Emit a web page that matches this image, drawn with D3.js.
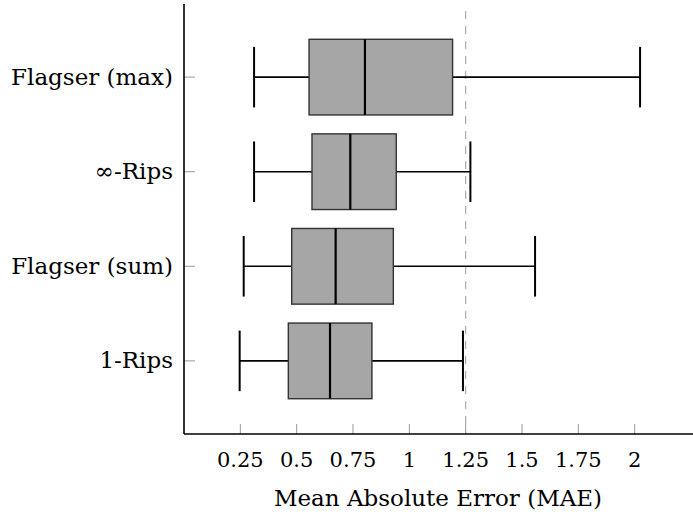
<!DOCTYPE html>
<html>
<head>
<meta charset="utf-8">
<script src="https://cdn.jsdelivr.net/npm/d3@7"></script>
<style>
    body { margin: 0; background: #fff; }
    text { font-family: "DejaVu Serif", serif; fill: #000; }
</style>
</head>
<body>
<div id="chart"></div>
<script>
// box plot stats
const categories = ["Flagser (max)", "\u221E-Rips", "Flagser (sum)", "1-Rips"];
const whiskerLow = [0.311, 0.311, 0.265, 0.247];
const q1 = [0.555, 0.568, 0.478, 0.463];
const median = [0.803, 0.738, 0.673, 0.648];
const q3 = [1.192, 0.942, 0.929, 0.834];
const whiskerHigh = [2.024, 1.271, 1.558, 1.238];
const xTicks = [0.25, 0.5, 0.75, 1, 1.25, 1.5, 1.75, 2];
const refLine = 1.25;

const width = 693, height = 519;
const axisLeft = 184, axisTop = 4, axisBottom = 434;

let svg = d3.select("#chart").append("svg")
    .attr("width", width)
    .attr("height", height);

let x = d3.scaleLinear()
    .domain([0, 2.26])
    .range([axisLeft, axisLeft + 225.33 * 2.26]);

let y = d3.scalePoint()
    .domain(categories)
    .range([axisTop, axisBottom])
    .padding(0.773);

let step = y.step();
let boxH = step * 0.8;
let capH = step * 0.64;

let rows = categories.map((c, i) => ({
    name: c, lo: whiskerLow[i], q1: q1[i], med: median[i], q3: q3[i], hi: whiskerHigh[i]
}));

// dashed reference line
svg.append("line")
    .attr("x1", x(refLine)).attr("x2", x(refLine))
    .attr("y1", axisTop + 7).attr("y2", axisBottom)
    .attr("stroke", "#aaa")
    .attr("stroke-width", 1.2)
    .attr("stroke-dasharray", "8,7");

// ticks (inward, gray)
svg.append("g").selectAll("line")
    .data(xTicks)
    .enter().append("line")
    .attr("x1", d => x(d)).attr("x2", d => x(d))
    .attr("y1", axisBottom).attr("y2", axisBottom - 10)
    .attr("stroke", "#999").attr("stroke-width", 1);

svg.append("g").selectAll("line")
    .data(categories)
    .enter().append("line")
    .attr("x1", axisLeft).attr("x2", axisLeft + 11)
    .attr("y1", d => y(d)).attr("y2", d => y(d))
    .attr("stroke", "#999").attr("stroke-width", 1);

// boxes
let g = svg.append("g").selectAll("g")
    .data(rows)
    .enter().append("g");

g.append("line")
    .attr("x1", d => x(d.lo)).attr("x2", d => x(d.q1))
    .attr("y1", d => y(d.name)).attr("y2", d => y(d.name))
    .attr("stroke", "#000").attr("stroke-width", 1.6);

g.append("line")
    .attr("x1", d => x(d.q3)).attr("x2", d => x(d.hi))
    .attr("y1", d => y(d.name)).attr("y2", d => y(d.name))
    .attr("stroke", "#000").attr("stroke-width", 1.6);

g.append("line")
    .attr("x1", d => x(d.lo)).attr("x2", d => x(d.lo))
    .attr("y1", d => y(d.name) - capH / 2).attr("y2", d => y(d.name) + capH / 2)
    .attr("stroke", "#000").attr("stroke-width", 2);

g.append("line")
    .attr("x1", d => x(d.hi)).attr("x2", d => x(d.hi))
    .attr("y1", d => y(d.name) - capH / 2).attr("y2", d => y(d.name) + capH / 2)
    .attr("stroke", "#000").attr("stroke-width", 2);

g.append("rect")
    .attr("x", d => x(d.q1))
    .attr("y", d => y(d.name) - boxH / 2)
    .attr("width", d => x(d.q3) - x(d.q1))
    .attr("height", boxH)
    .attr("fill", "#a6a6a6")
    .attr("stroke", "#333")
    .attr("stroke-width", 1.4);

g.append("line")
    .attr("x1", d => x(d.med)).attr("x2", d => x(d.med))
    .attr("y1", d => y(d.name) - boxH / 2).attr("y2", d => y(d.name) + boxH / 2)
    .attr("stroke", "#000").attr("stroke-width", 2.2);

// axis lines
svg.append("line")
    .attr("x1", axisLeft).attr("x2", width)
    .attr("y1", axisBottom).attr("y2", axisBottom)
    .attr("stroke", "#000").attr("stroke-width", 1.6);

svg.append("line")
    .attr("x1", axisLeft).attr("x2", axisLeft)
    .attr("y1", axisTop).attr("y2", axisBottom)
    .attr("stroke", "#000").attr("stroke-width", 1.6);

// labels
svg.append("g").selectAll("text")
    .data(xTicks)
    .enter().append("text")
    .attr("x", d => x(d))
    .attr("y", 467)
    .attr("text-anchor", "middle")
    .style("font-size", "21px")
    .text(d => d);

svg.append("g").selectAll("text")
    .data(categories)
    .enter().append("text")
    .attr("x", axisLeft - 11)
    .attr("y", d => y(d))
    .attr("dy", "0.33em")
    .attr("text-anchor", "end")
    .style("font-size", "23px")
    .text(d => d);

svg.append("text")
    .attr("x", 438)
    .attr("y", 506)
    .attr("text-anchor", "middle")
    .style("font-size", "23px")
    .text("Mean Absolute Error (MAE)");
</script>
</body>
</html>
